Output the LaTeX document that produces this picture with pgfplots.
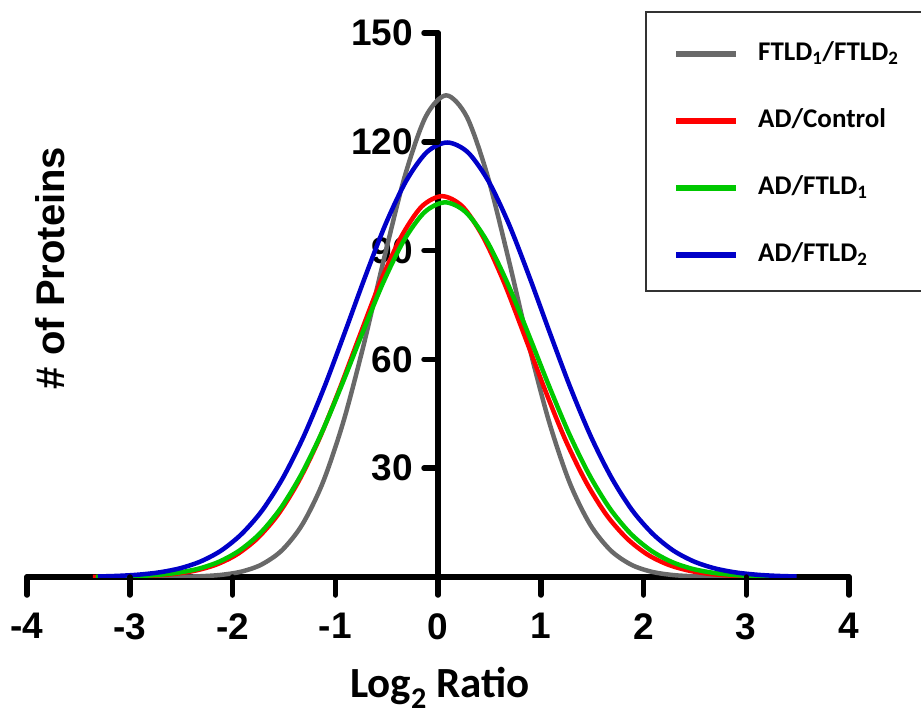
\documentclass[border=0pt]{standalone}
\usepackage{fontspec}
\setmainfont{Liberation Sans}
\newfontfamily\calibri{Carlito}
\usepackage{pgfplots}
\pgfplotsset{compat=1.18}
\usetikzlibrary{calc}

\definecolor{cgray}{RGB}{105,105,105}
\definecolor{cred}{RGB}{255,0,0}
\definecolor{cgreen}{RGB}{0,200,0}
\definecolor{cblue}{RGB}{0,0,200}

\begin{document}
\begin{tikzpicture}[x=1pt,y=1pt]
\useasboundingbox (0,0) rectangle (921,-713);
\begin{axis}[
  at={(438pt,-577pt)}, anchor=origin,
  x=102.75pt, y=3.627pt,
  xmin=-4, xmax=4, ymin=0, ymax=150,
  axis x line=bottom, axis y line=middle,
  axis line style={-, line width=5.5pt, line cap=round},
  hide obscured x ticks=false, hide obscured y ticks=false,
  major tick length=0pt,
  xtick={-4,-3,-2,-1,0,1,2,3,4},
  xticklabels={-4,-3,-2,-1,0,1,2,3,4},
  ytick={30,60,90,120,150},
  yticklabels={30,60,90,120,150},
  minor tick num=0,
  ticklabel style={font=\fontsize{37}{37}\selectfont\bfseries, inner sep=0pt},
  xticklabel style={anchor=north, yshift=-36pt},
  yticklabel style={anchor=east, xshift=-25pt},
  legend cell align=left,
  legend style={draw=none, fill=none, at={(0.7859,0.9858)}, anchor=north west,
    inner sep=0pt, row sep=40pt,
    nodes={inner sep=0pt, text height=20pt, text depth=7pt,
      font=\calibri\fontsize{27}{27}\selectfont\bfseries},
    /tikz/every odd column/.append style={column sep=19pt}},
  legend image code/.code={\draw[line width=6pt] (0pt,0pt) -- (60pt,0pt);},
  every axis plot/.append style={line width=4.5pt, smooth, no markers},
]
\addplot[cgray] coordinates {
(-3.32,0)(-3.12,0)(-2.92,0)(-2.72,0.02)(-2.52,0.06)(-2.32,0.20)(-2.12,0.56)(-1.92,1.44)
(-1.72,3.40)(-1.52,7.34)(-1.32,14.5)(-1.12,26.1)(-0.92,42.9)(-0.72,64.4)(-0.52,88.4)
(-0.32,110.8)(-0.12,126.9)(0.08,132.8)(0.28,126.9)(0.48,110.8)(0.68,88.4)(0.88,64.4)
(1.08,42.9)(1.28,26.1)(1.48,14.5)(1.68,7.34)(1.88,3.40)(2.08,1.44)(2.28,0.56)(2.48,0.20)
(2.68,0.06)(2.88,0.02)(3.08,0)(3.28,0)(3.48,0)
};
\addlegendentry{FTLD\textsubscript{1}/FTLD\textsubscript{2}}
\addplot[cred] coordinates {
(-3.36,0.03)(-3.16,0.07)(-2.96,0.18)(-2.76,0.41)(-2.56,0.87)(-2.36,1.77)(-2.16,3.40)
(-1.96,6.17)(-1.76,10.6)(-1.56,17.1)(-1.36,26.2)(-1.16,37.8)(-0.96,51.7)(-0.76,66.7)
(-0.56,81.4)(-0.36,93.7)(-0.16,102.1)(0.04,105.0)(0.24,102.1)(0.44,93.7)(0.64,81.4)
(0.84,66.7)(1.04,51.7)(1.24,37.8)(1.44,26.2)(1.64,17.1)(1.84,10.6)(2.04,6.17)(2.24,3.40)
(2.44,1.77)(2.64,0.87)(2.84,0.41)(3.04,0.18)(3.24,0.07)(3.44,0.03)
};
\addlegendentry{AD/Control}
\addplot[cgreen] coordinates {
(-3.33,0.05)(-3.13,0.12)(-2.93,0.27)(-2.73,0.58)(-2.53,1.19)(-2.33,2.30)(-2.13,4.22)
(-1.93,7.35)(-1.73,12.1)(-1.53,19.0)(-1.33,28.3)(-1.13,39.9)(-0.93,53.4)(-0.73,67.7)
(-0.53,81.4)(-0.33,92.9)(-0.13,100.6)(0.07,103.3)(0.27,100.6)(0.47,92.9)(0.67,81.4)
(0.87,67.7)(1.07,53.4)(1.27,39.9)(1.47,28.3)(1.67,19.0)(1.87,12.1)(2.07,7.35)(2.27,4.22)
(2.47,2.30)(2.67,1.19)(2.87,0.58)(3.07,0.27)(3.27,0.12)(3.47,0.05)
};
\addlegendentry{AD/FTLD\textsubscript{1}}
\addplot[cblue] coordinates {
(-3.31,0.15)(-3.11,0.32)(-2.91,0.66)(-2.71,1.29)(-2.51,2.41)(-2.31,4.29)(-2.11,7.30)
(-1.91,11.9)(-1.71,18.4)(-1.51,27.3)(-1.31,38.6)(-1.11,52.1)(-0.91,67.2)(-0.71,82.7)
(-0.51,97.3)(-0.31,109.2)(-0.11,117.1)(0.09,119.8)(0.29,117.1)(0.49,109.2)(0.69,97.3)
(0.89,82.7)(1.09,67.2)(1.29,52.1)(1.49,38.6)(1.69,27.3)(1.89,18.4)(2.09,11.9)(2.29,7.30)
(2.49,4.29)(2.69,2.41)(2.89,1.29)(3.09,0.66)(3.29,0.32)(3.49,0.15)
};
\addlegendentry{AD/FTLD\textsubscript{2}}
\end{axis}
% tick marks
\foreach \k in {-4,-3,-2,-1,0,1,2,3,4}
  \draw[black, line width=5.5pt, line cap=round] ($(438,-577)+(102.75*\k,0)$) -- ++(0,-18);
\foreach \v in {30,60,90,120,150}
  \draw[black, line width=5.5pt, line cap=round] ($(438,-577)+(0,3.627*\v)$) -- ++(-14,0);
\draw[line width=1.3pt, black!80] (646,-12) rectangle (930,-291);
\node[rotate=90, font=\fontsize{40}{40}\selectfont\bfseries] at (50,-268) {\# of Proteins};
\node[anchor=base, inner sep=0pt, font=\calibri\fontsize{43}{43}\selectfont\bfseries] at (440,-697) {Log\textsubscript{2} Ratio};
\end{tikzpicture}
\end{document}
